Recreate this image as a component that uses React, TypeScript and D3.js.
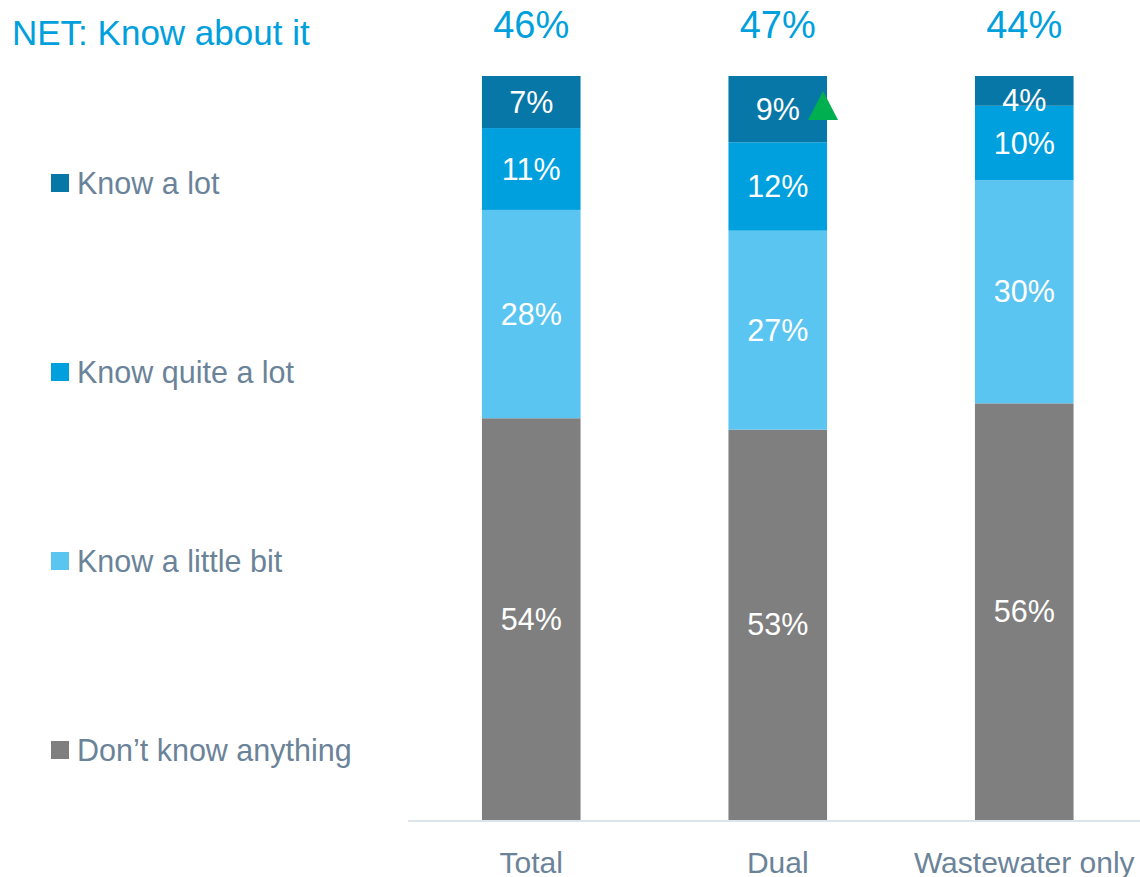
import React from "react";
import * as d3 from "d3";

const categories = ["Total", "Dual", "Wastewater only"];
const seriesNames = ["Don’t know anything", "Know a little bit", "Know quite a lot", "Know a lot"];
const dontKnow = [54, 53, 56];
const knowLittle = [28, 27, 30];
const knowQuite = [11, 12, 10];
const knowLot = [7, 9, 4];
const netValues = [46, 47, 44];
const significantUp = [false, true, false];
const seriesColors = ["#7f7f7f", "#5bc5f2", "#00a0de", "#0777a8"];
const legendOrder = [3, 2, 1, 0];

const W = 1140;
const H = 877;

export default function App() {
  const seriesValues = [dontKnow, knowLittle, knowQuite, knowLot];
  const rows = categories.map((c, i) => {
    const r: any = { cat: c };
    seriesNames.forEach((s, j) => (r[s] = seriesValues[j][i]));
    return r;
  });
  const stack = d3.stack<any>().keys(seriesNames).offset(d3.stackOffsetExpand);
  const stacked = stack(rows);

  const x = d3.scaleBand<string>().domain(categories).range([408, 1147.5]).paddingInner(0.6).paddingOuter(0.3);
  const y = d3.scaleLinear().domain([0, 1]).range([820, 76]);
  const legendY = d3.scalePoint<number>().domain(legendOrder).range([183, 750]);

  const font = "'Liberation Sans', Arial, sans-serif";
  const textGray = "#6b8399";

  return (
    <svg width={W} height={H} style={{ position: "absolute", left: 0, top: 0 }} fontFamily={font}>
      <rect x={0} y={0} width={W} height={H} fill="#fff" />
      <text x={12} y={33} dy="0.35em" fontSize={35} fill="#00a0dc">NET: Know about it</text>

      {stacked.map((layer, j) => (
        <g key={layer.key}>
          {layer.map((d, i) => {
            const top = y(d[1]);
            const bot = y(d[0]);
            const cx = (x(categories[i]) as number) + x.bandwidth() / 2;
            const ly = Math.max((top + bot) / 2, top + 24);
            return (
              <g key={i}>
                <rect x={x(categories[i])} y={top} width={x.bandwidth()} height={bot - top} fill={seriesColors[j]} />
                <text x={cx} y={ly} dy="0.35em" textAnchor="middle" fontSize={30.5} fill="#fff">
                  {seriesValues[j][i]}%
                </text>
              </g>
            );
          })}
        </g>
      ))}

      {categories.map((c, i) => {
        const cx = (x(c) as number) + x.bandwidth() / 2;
        return (
          <g key={c}>
            <text x={cx} y={25} dy="0.35em" textAnchor="middle" fontSize={38} fill="#00a0dc">{netValues[i]}%</text>
            <text x={cx} y={862} dy="0.35em" textAnchor="middle" fontSize={30} fill={textGray}>{c}</text>
            {significantUp[i] && (() => {
              const top = y(1);
              const bx = (x(c) as number) + x.bandwidth();
              const pts = [[bx - 19, top + 44], [bx + 11, top + 44], [bx - 4, top + 15]];
              return <polygon points={pts.map((p) => p.join(",")).join(" ")} fill="#00b050" />;
            })()}
          </g>
        );
      })}

      <line x1={408} x2={1140} y1={821} y2={821} stroke="#dde3ea" strokeWidth={2} />

      {legendOrder.map((j) => (
        <g key={j}>
          <rect x={51} y={(legendY(j) as number) - 9} width={18} height={18} fill={seriesColors[j]} />
          <text x={77} y={legendY(j)} dy="0.35em" fontSize={30.5} fill={textGray}>{seriesNames[j]}</text>
        </g>
      ))}
    </svg>
  );
}
